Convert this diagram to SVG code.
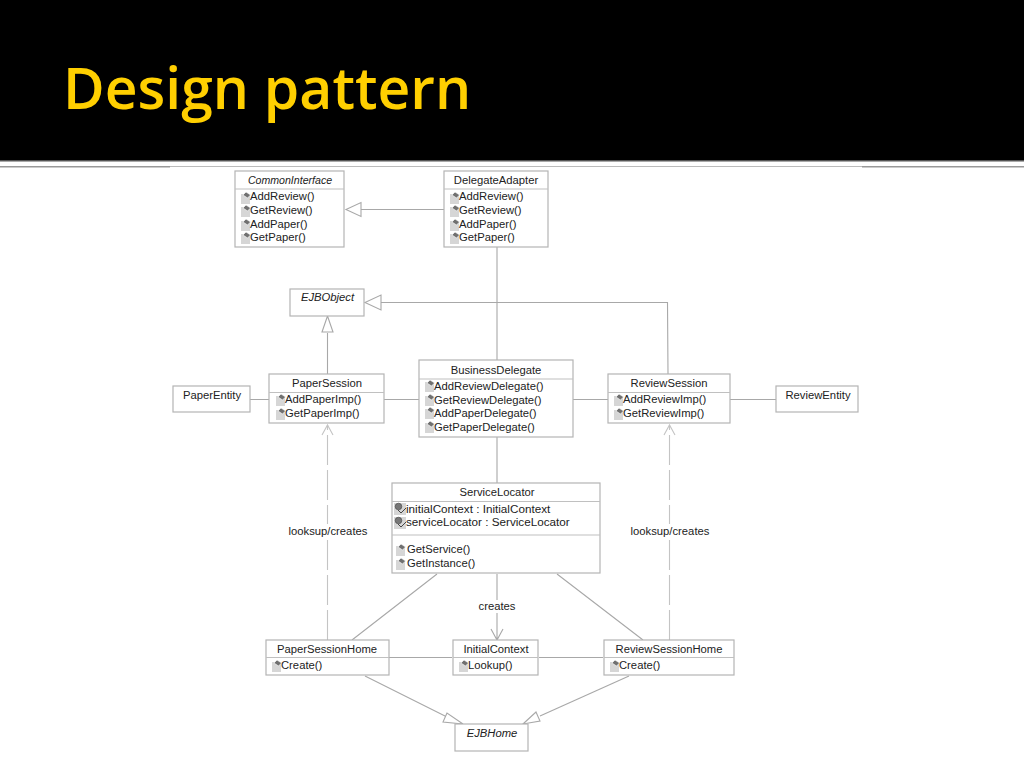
<svg xmlns="http://www.w3.org/2000/svg" width="1024" height="768" viewBox="0 0 1024 768">
<style>
.box{fill:#fff;stroke:#b4b4b4;stroke-width:1.2}
.div{stroke:#c0c0c0;stroke-width:1.2;fill:none}
.c{stroke:#a8a8a8;stroke-width:1.1;fill:none}
.d{stroke:#c4c4c4;stroke-width:1.1;fill:none;stroke-dasharray:30 5}
.dh{stroke:#c4c4c4;stroke-width:1.1;fill:none}
.h{fill:#fff;stroke:#a8a8a8;stroke-width:1.1}
text{font-family:"Liberation Sans",Arial,sans-serif;font-size:11.25px;fill:#222}
.n{text-anchor:middle}
.i{font-style:italic}
.ci{font-size:10.6px}
.a{font-size:11.7px}
.title{font-family:"Open Sans","Noto Sans",sans-serif;font-size:57px;font-weight:600;fill:#ffcf00}
</style>
<defs>
<g id="op"><rect x="-2" y="-3" width="9" height="10" fill="#d6d6d6"/><path d="M0 -2 L3 -5 L7.500 -2 L4.500 1 Z" fill="#707070" stroke="#fff" stroke-width=".6"/></g>
<g id="at"><rect x="-2" y="-5" width="12" height="12" fill="#d6d6d6"/><circle cx="2.500" cy="-1.500" r="3.300" fill="#777" stroke="#444" stroke-width=".6"/><path d="M2 2 L5 5 L10 0" fill="none" stroke="#444" stroke-width="1"/></g>
</defs>
<rect width="1024" height="768" fill="#fff"/>
<rect width="1024" height="160" fill="#000"/>
<rect y="160" width="1024" height="1.500" fill="#555"/>
<rect x="0" y="166" width="170" height="1.500" fill="#999"/>
<rect x="170" y="166" width="692" height="1" fill="#bbb"/>
<rect x="862" y="166" width="162" height="1.500" fill="#999"/>
<text class="title" x="63" y="109">Design pattern</text>

<g id="connectors">
<path class="c" d="M444 209.500H361"/><path class="h" d="M361 202.500V216.500L346 209.500Z"/>
<path class="c" d="M497 247V360"/>
<path class="c" d="M668 374L667.500 302.500H381"/><path class="h" d="M381 295V310L365 302.500Z"/>
<path class="c" d="M327.500 374V333"/><path class="h" d="M322 332H333L327.500 316Z"/>
<path class="c" d="M250 399.500H269M384 399.500H419M573 399.500H608M730 399.500H776"/>
<path class="c" d="M497 437V483"/>
<path class="d" d="M327.500 640V425"/><path class="dh" d="M322 435L327.500 425L333 435"/>
<path class="d" d="M669.500 640V425"/><path class="dh" d="M664 435L669.500 425L675 435"/>
<path class="c" d="M437 574L352 640M557 574L643 640"/>
<path class="c" d="M497 574V640M491 629L497 640L503 629"/>
<path class="c" d="M389 657.500H452M539 657.500H603"/>
<path class="c" d="M365 676L447 717"/><path class="h" d="M447 713L443 722L463 724Z"/>
<path class="c" d="M629 676L540 716"/><path class="h" d="M536 712L540 721L523 724Z"/>
</g>

<g id="CommonInterface"><rect class="box" x="235" y="171" width="109" height="76"/><path class="div" d="M235 189H344"/><text class="n i ci" x="290" y="183.500">CommonInterface</text>
<use href="#op" x="243" y="197"/><use href="#op" x="243" y="210"/><use href="#op" x="243" y="224"/><use href="#op" x="243" y="237"/>
<text x="250" y="200">AddReview()</text><text x="250" y="214">GetReview()</text><text x="250" y="227.500">AddPaper()</text><text x="250" y="241">GetPaper()</text></g>

<g id="DelegateAdapter"><rect class="box" x="444" y="171" width="104" height="76"/><path class="div" d="M444 189H548"/><text class="n" x="496" y="183.500">DelegateAdapter</text>
<use href="#op" x="452" y="197"/><use href="#op" x="452" y="210"/><use href="#op" x="452" y="224"/><use href="#op" x="452" y="237"/>
<text x="459" y="200">AddReview()</text><text x="459" y="214">GetReview()</text><text x="459" y="227.500">AddPaper()</text><text x="459" y="241">GetPaper()</text></g>

<g id="EJBObject"><rect class="box" x="290" y="289" width="74" height="27"/><text class="n i" x="327.500" y="301">EJBObject</text></g>

<g id="PaperEntity"><rect class="box" x="173" y="386" width="77" height="26"/><text class="n" x="212" y="399">PaperEntity</text></g>

<g id="PaperSession"><rect class="box" x="269" y="374" width="115" height="49"/><path class="div" d="M269 392.500H384"/><text class="n" x="327" y="387">PaperSession</text>
<use href="#op" x="278" y="399"/><use href="#op" x="278" y="413"/>
<text x="285" y="403">AddPaperImp()</text><text x="285" y="417">GetPaperImp()</text></g>

<g id="BusinessDelegate"><rect class="box" x="419" y="360" width="154" height="77"/><path class="div" d="M419 379H573"/><text class="n" x="496" y="373.500">BusinessDelegate</text>
<use href="#op" x="427" y="385"/><use href="#op" x="427" y="399"/><use href="#op" x="427" y="412"/><use href="#op" x="427" y="426"/>
<text x="434" y="390">AddReviewDelegate()</text><text x="434" y="403.500">GetReviewDelegate()</text><text x="434" y="417">AddPaperDelegate()</text><text x="434" y="431">GetPaperDelegate()</text></g>

<g id="ReviewSession"><rect class="box" x="608" y="374" width="122" height="49"/><path class="div" d="M608 392.500H730"/><text class="n" x="669" y="387">ReviewSession</text>
<use href="#op" x="616" y="399"/><use href="#op" x="616" y="413"/>
<text x="623" y="403">AddReviewImp()</text><text x="623" y="417">GetReviewImp()</text></g>

<g id="ReviewEntity"><rect class="box" x="776" y="386" width="82" height="26"/><text class="n" x="818" y="399">ReviewEntity</text></g>

<g id="ServiceLocator"><rect class="box" x="392" y="483" width="208" height="90"/><path class="div" d="M392 501.500H600M392 535H600"/><text class="n" x="497" y="496">ServiceLocator</text>
<use href="#at" x="396" y="508"/><use href="#at" x="396" y="522"/>
<text class="a" x="406" y="512.500">initialContext : InitialContext</text><text class="a" x="406" y="526">serviceLocator : ServiceLocator</text>
<use href="#op" x="398" y="549"/><use href="#op" x="398" y="563"/>
<text x="407" y="553">GetService()</text><text x="407" y="567">GetInstance()</text></g>

<g id="PaperSessionHome"><rect class="box" x="266" y="640" width="123" height="35"/><path class="div" d="M266 657.500H389"/><text class="n" x="327" y="652.500">PaperSessionHome</text>
<use href="#op" x="274" y="665"/><text x="281" y="669">Create()</text></g>

<g id="InitialContext"><rect class="box" x="453" y="640" width="85" height="35"/><path class="div" d="M453 657.500H538"/><text class="n" x="496" y="652.500">InitialContext</text>
<use href="#op" x="461" y="665"/><text x="468" y="669">Lookup()</text></g>

<g id="ReviewSessionHome"><rect class="box" x="604" y="640" width="130" height="35"/><path class="div" d="M604 657.500H734"/><text class="n" x="669" y="652.500">ReviewSessionHome</text>
<use href="#op" x="612" y="665"/><text x="619" y="669">Create()</text></g>

<g id="EJBHome"><rect class="box" x="455" y="724" width="73" height="27"/><text class="n i" x="492" y="737">EJBHome</text></g>

<g id="labels">
<rect x="288" y="524" width="80" height="14" fill="#fff"/>
<text class="n" x="328" y="535">looksup/creates</text>
<rect x="630" y="524" width="80" height="14" fill="#fff"/>
<text class="n" x="670" y="535">looksup/creates</text>
<rect x="476" y="600" width="42" height="13" fill="#fff"/>
<text class="n" x="497" y="610">creates</text>
</g>
</svg>
